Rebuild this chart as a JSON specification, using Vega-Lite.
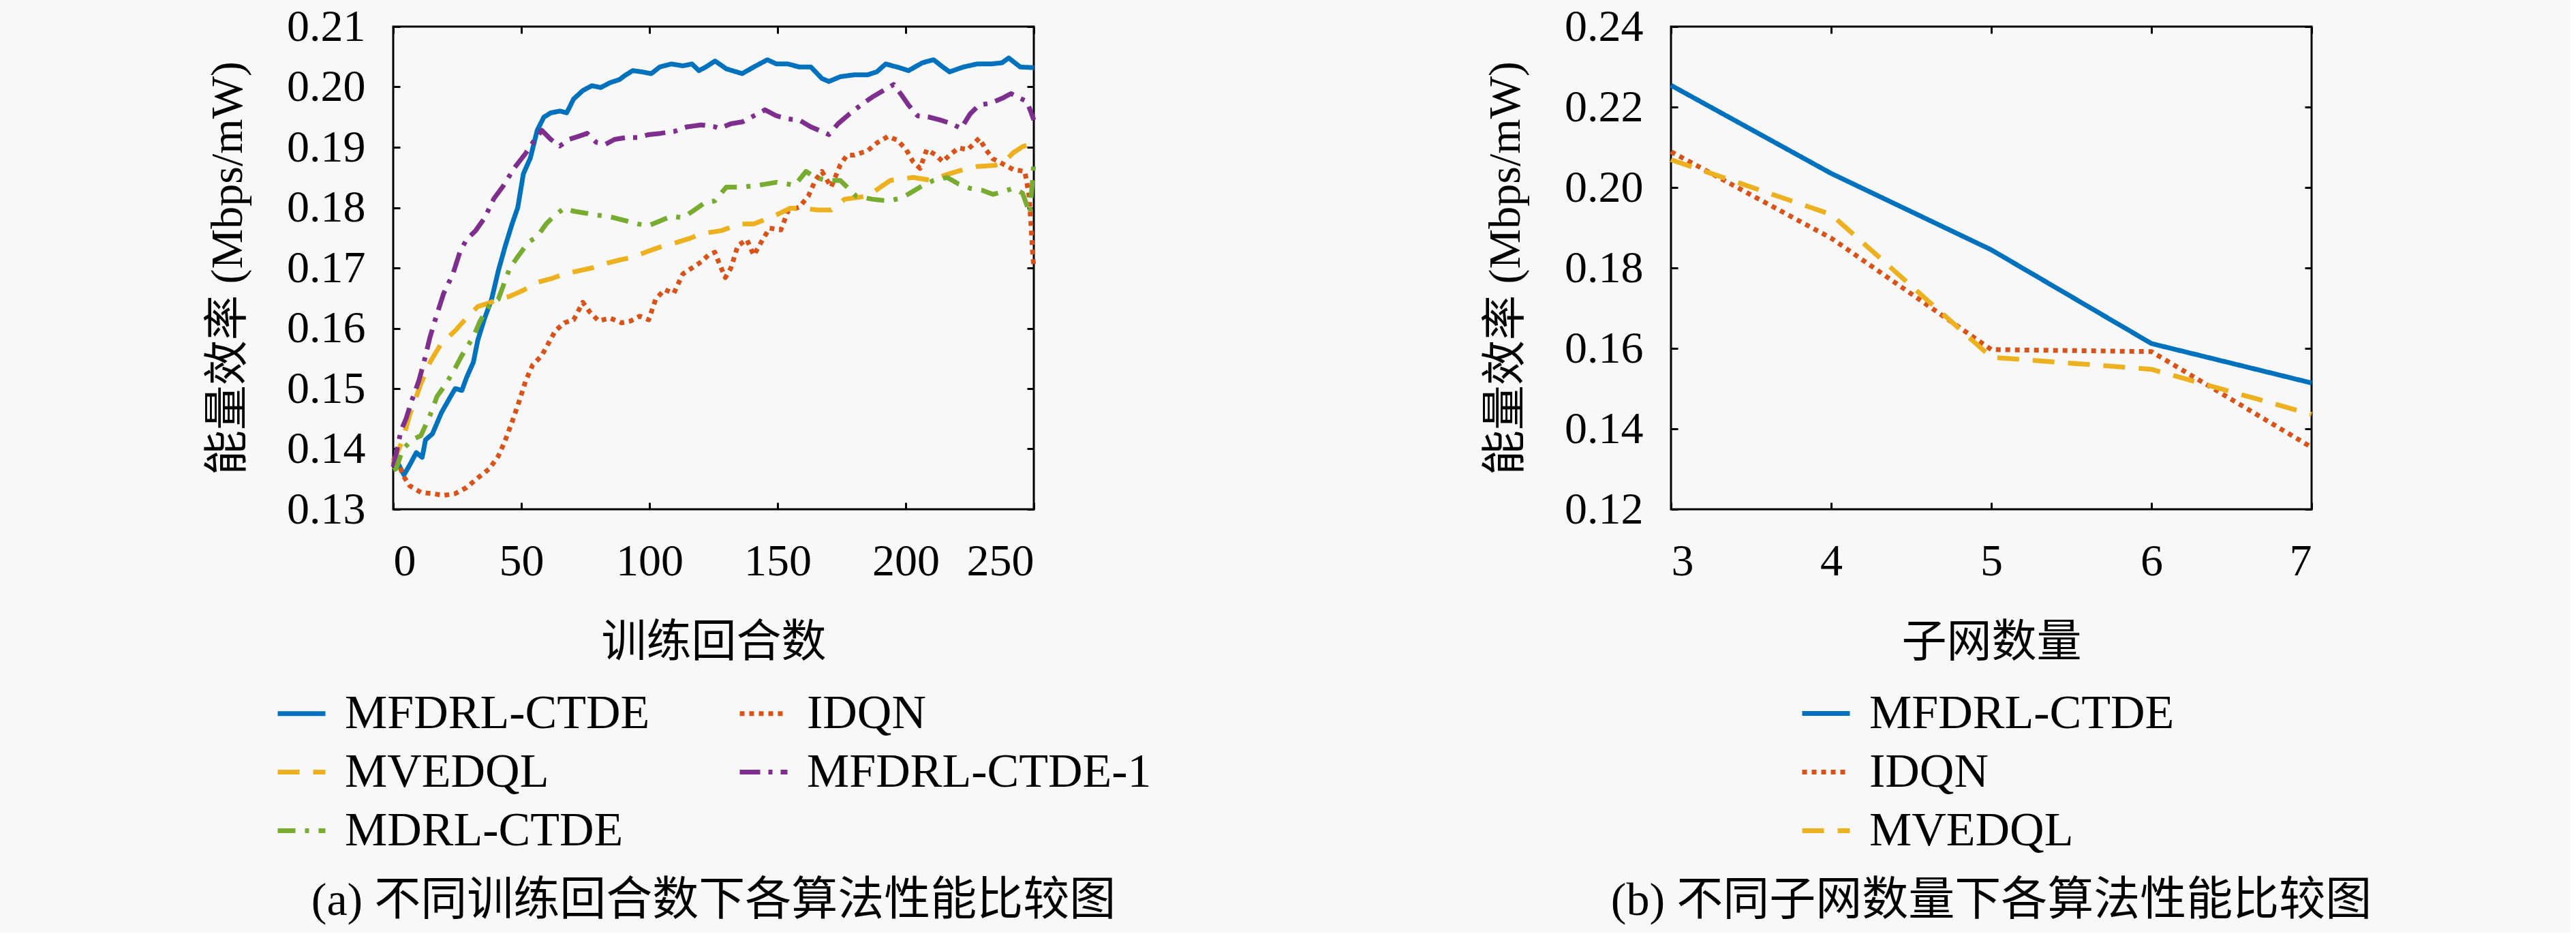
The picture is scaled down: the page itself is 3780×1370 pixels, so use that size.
{
  "$schema": "https://vega.github.io/schema/vega-lite/v6.json",
  "background": "#f8f8f8",
  "padding": {"left": 300, "top": 4, "right": 290, "bottom": 10},
  "spacing": 483,
  "resolve": {
    "scale": {"color": "independent", "strokeDash": "independent"},
    "legend": {"color": "independent", "strokeDash": "independent"}
  },
  "datasets": {
    "train": [
      {"method": "MFDRL-CTDE", "episode": 0, "eff": 0.138},
      {"method": "MFDRL-CTDE", "episode": 2, "eff": 0.1375},
      {"method": "MFDRL-CTDE", "episode": 4.2, "eff": 0.1357},
      {"method": "MFDRL-CTDE", "episode": 6.4, "eff": 0.1373},
      {"method": "MFDRL-CTDE", "episode": 9, "eff": 0.1394},
      {"method": "MFDRL-CTDE", "episode": 11.3, "eff": 0.1386},
      {"method": "MFDRL-CTDE", "episode": 12.6, "eff": 0.1415},
      {"method": "MFDRL-CTDE", "episode": 15.3, "eff": 0.1425},
      {"method": "MFDRL-CTDE", "episode": 18.8, "eff": 0.146},
      {"method": "MFDRL-CTDE", "episode": 22.4, "eff": 0.1487},
      {"method": "MFDRL-CTDE", "episode": 24.2, "eff": 0.15},
      {"method": "MFDRL-CTDE", "episode": 26.8, "eff": 0.1497},
      {"method": "MFDRL-CTDE", "episode": 28.6, "eff": 0.1518},
      {"method": "MFDRL-CTDE", "episode": 31.3, "eff": 0.1544},
      {"method": "MFDRL-CTDE", "episode": 33, "eff": 0.158},
      {"method": "MFDRL-CTDE", "episode": 35.7, "eff": 0.1617},
      {"method": "MFDRL-CTDE", "episode": 38.4, "eff": 0.1648},
      {"method": "MFDRL-CTDE", "episode": 41, "eff": 0.1695},
      {"method": "MFDRL-CTDE", "episode": 43.7, "eff": 0.1736},
      {"method": "MFDRL-CTDE", "episode": 46.4, "eff": 0.1773},
      {"method": "MFDRL-CTDE", "episode": 48.6, "eff": 0.18},
      {"method": "MFDRL-CTDE", "episode": 50.8, "eff": 0.1856},
      {"method": "MFDRL-CTDE", "episode": 53.5, "eff": 0.1882},
      {"method": "MFDRL-CTDE", "episode": 56.2, "eff": 0.1928},
      {"method": "MFDRL-CTDE", "episode": 58.8, "eff": 0.195},
      {"method": "MFDRL-CTDE", "episode": 61.5, "eff": 0.1957},
      {"method": "MFDRL-CTDE", "episode": 65, "eff": 0.196},
      {"method": "MFDRL-CTDE", "episode": 67.7, "eff": 0.1957},
      {"method": "MFDRL-CTDE", "episode": 70.4, "eff": 0.198},
      {"method": "MFDRL-CTDE", "episode": 74, "eff": 0.1994},
      {"method": "MFDRL-CTDE", "episode": 77.5, "eff": 0.2002},
      {"method": "MFDRL-CTDE", "episode": 81, "eff": 0.1999},
      {"method": "MFDRL-CTDE", "episode": 84.6, "eff": 0.2007},
      {"method": "MFDRL-CTDE", "episode": 88.2, "eff": 0.2012},
      {"method": "MFDRL-CTDE", "episode": 90.8, "eff": 0.202},
      {"method": "MFDRL-CTDE", "episode": 93.5, "eff": 0.2027},
      {"method": "MFDRL-CTDE", "episode": 97, "eff": 0.2025},
      {"method": "MFDRL-CTDE", "episode": 100.7, "eff": 0.2022},
      {"method": "MFDRL-CTDE", "episode": 104, "eff": 0.2033},
      {"method": "MFDRL-CTDE", "episode": 108.6, "eff": 0.2038},
      {"method": "MFDRL-CTDE", "episode": 113, "eff": 0.2035},
      {"method": "MFDRL-CTDE", "episode": 116.6, "eff": 0.2038},
      {"method": "MFDRL-CTDE", "episode": 119.3, "eff": 0.2027},
      {"method": "MFDRL-CTDE", "episode": 122, "eff": 0.2033},
      {"method": "MFDRL-CTDE", "episode": 125.6, "eff": 0.2043},
      {"method": "MFDRL-CTDE", "episode": 130, "eff": 0.203},
      {"method": "MFDRL-CTDE", "episode": 136.2, "eff": 0.2022},
      {"method": "MFDRL-CTDE", "episode": 140.7, "eff": 0.2033},
      {"method": "MFDRL-CTDE", "episode": 146, "eff": 0.2045},
      {"method": "MFDRL-CTDE", "episode": 149.6, "eff": 0.2038},
      {"method": "MFDRL-CTDE", "episode": 154, "eff": 0.2038},
      {"method": "MFDRL-CTDE", "episode": 158.5, "eff": 0.2033},
      {"method": "MFDRL-CTDE", "episode": 163, "eff": 0.2033},
      {"method": "MFDRL-CTDE", "episode": 167.3, "eff": 0.2014},
      {"method": "MFDRL-CTDE", "episode": 170, "eff": 0.2009},
      {"method": "MFDRL-CTDE", "episode": 174.5, "eff": 0.2017},
      {"method": "MFDRL-CTDE", "episode": 179.8, "eff": 0.202},
      {"method": "MFDRL-CTDE", "episode": 185.1, "eff": 0.202},
      {"method": "MFDRL-CTDE", "episode": 188.7, "eff": 0.2025},
      {"method": "MFDRL-CTDE", "episode": 192.2, "eff": 0.2038},
      {"method": "MFDRL-CTDE", "episode": 196.7, "eff": 0.2033},
      {"method": "MFDRL-CTDE", "episode": 201.1, "eff": 0.2027},
      {"method": "MFDRL-CTDE", "episode": 206.5, "eff": 0.204},
      {"method": "MFDRL-CTDE", "episode": 210.9, "eff": 0.2045},
      {"method": "MFDRL-CTDE", "episode": 214.5, "eff": 0.2033},
      {"method": "MFDRL-CTDE", "episode": 217.1, "eff": 0.2025},
      {"method": "MFDRL-CTDE", "episode": 222.5, "eff": 0.2033},
      {"method": "MFDRL-CTDE", "episode": 227.8, "eff": 0.2038},
      {"method": "MFDRL-CTDE", "episode": 233.1, "eff": 0.2038},
      {"method": "MFDRL-CTDE", "episode": 237.6, "eff": 0.204},
      {"method": "MFDRL-CTDE", "episode": 240.2, "eff": 0.2048},
      {"method": "MFDRL-CTDE", "episode": 244.7, "eff": 0.2033},
      {"method": "MFDRL-CTDE", "episode": 250, "eff": 0.2032},

      {"method": "IDQN", "episode": 0, "eff": 0.138},
      {"method": "IDQN", "episode": 1.1, "eff": 0.1389},
      {"method": "IDQN", "episode": 3.7, "eff": 0.1357},
      {"method": "IDQN", "episode": 6.4, "eff": 0.1339},
      {"method": "IDQN", "episode": 10.8, "eff": 0.1328},
      {"method": "IDQN", "episode": 15.3, "eff": 0.1326},
      {"method": "IDQN", "episode": 19.7, "eff": 0.1323},
      {"method": "IDQN", "episode": 24.2, "eff": 0.1326},
      {"method": "IDQN", "episode": 28.6, "eff": 0.1336},
      {"method": "IDQN", "episode": 33, "eff": 0.1352},
      {"method": "IDQN", "episode": 37.5, "eff": 0.1367},
      {"method": "IDQN", "episode": 41, "eff": 0.1388},
      {"method": "IDQN", "episode": 43.7, "eff": 0.1414},
      {"method": "IDQN", "episode": 46.4, "eff": 0.1445},
      {"method": "IDQN", "episode": 49, "eff": 0.1477},
      {"method": "IDQN", "episode": 51.7, "eff": 0.1513},
      {"method": "IDQN", "episode": 54.4, "eff": 0.1539},
      {"method": "IDQN", "episode": 58, "eff": 0.1555},
      {"method": "IDQN", "episode": 60.7, "eff": 0.1576},
      {"method": "IDQN", "episode": 63.3, "eff": 0.1596},
      {"method": "IDQN", "episode": 66.8, "eff": 0.1609},
      {"method": "IDQN", "episode": 70.4, "eff": 0.1614},
      {"method": "IDQN", "episode": 74, "eff": 0.1643},
      {"method": "IDQN", "episode": 76.7, "eff": 0.1627},
      {"method": "IDQN", "episode": 80.2, "eff": 0.1612},
      {"method": "IDQN", "episode": 84.6, "eff": 0.1617},
      {"method": "IDQN", "episode": 89.1, "eff": 0.1609},
      {"method": "IDQN", "episode": 92.6, "eff": 0.1612},
      {"method": "IDQN", "episode": 96.2, "eff": 0.162},
      {"method": "IDQN", "episode": 99.7, "eff": 0.1614},
      {"method": "IDQN", "episode": 102.4, "eff": 0.1648},
      {"method": "IDQN", "episode": 105.9, "eff": 0.1664},
      {"method": "IDQN", "episode": 109.5, "eff": 0.1658},
      {"method": "IDQN", "episode": 113, "eff": 0.169},
      {"method": "IDQN", "episode": 116.6, "eff": 0.17},
      {"method": "IDQN", "episode": 120.2, "eff": 0.171},
      {"method": "IDQN", "episode": 122.9, "eff": 0.1721},
      {"method": "IDQN", "episode": 125.5, "eff": 0.1726},
      {"method": "IDQN", "episode": 127, "eff": 0.171},
      {"method": "IDQN", "episode": 129.6, "eff": 0.1684},
      {"method": "IDQN", "episode": 131.8, "eff": 0.17},
      {"method": "IDQN", "episode": 134.5, "eff": 0.1737},
      {"method": "IDQN", "episode": 138, "eff": 0.1747},
      {"method": "IDQN", "episode": 140.7, "eff": 0.1721},
      {"method": "IDQN", "episode": 144.2, "eff": 0.1747},
      {"method": "IDQN", "episode": 146.9, "eff": 0.1766},
      {"method": "IDQN", "episode": 151.3, "eff": 0.1763},
      {"method": "IDQN", "episode": 154, "eff": 0.1794},
      {"method": "IDQN", "episode": 158.5, "eff": 0.1801},
      {"method": "IDQN", "episode": 162, "eff": 0.1819},
      {"method": "IDQN", "episode": 164.7, "eff": 0.1845},
      {"method": "IDQN", "episode": 167.3, "eff": 0.186},
      {"method": "IDQN", "episode": 170.9, "eff": 0.1834},
      {"method": "IDQN", "episode": 174.5, "eff": 0.1871},
      {"method": "IDQN", "episode": 177.1, "eff": 0.1887},
      {"method": "IDQN", "episode": 179.8, "eff": 0.1887},
      {"method": "IDQN", "episode": 185.1, "eff": 0.1894},
      {"method": "IDQN", "episode": 188.7, "eff": 0.1907},
      {"method": "IDQN", "episode": 193.1, "eff": 0.1918},
      {"method": "IDQN", "episode": 196.7, "eff": 0.1912},
      {"method": "IDQN", "episode": 200.2, "eff": 0.1896},
      {"method": "IDQN", "episode": 202.9, "eff": 0.1876},
      {"method": "IDQN", "episode": 205.6, "eff": 0.1865},
      {"method": "IDQN", "episode": 208.2, "eff": 0.1896},
      {"method": "IDQN", "episode": 211.8, "eff": 0.1887},
      {"method": "IDQN", "episode": 214.5, "eff": 0.1876},
      {"method": "IDQN", "episode": 217.1, "eff": 0.1887},
      {"method": "IDQN", "episode": 220.7, "eff": 0.1899},
      {"method": "IDQN", "episode": 224.2, "eff": 0.1896},
      {"method": "IDQN", "episode": 228.7, "eff": 0.1915},
      {"method": "IDQN", "episode": 231.3, "eff": 0.1896},
      {"method": "IDQN", "episode": 234, "eff": 0.1881},
      {"method": "IDQN", "episode": 238.5, "eff": 0.1871},
      {"method": "IDQN", "episode": 242, "eff": 0.1863},
      {"method": "IDQN", "episode": 246.5, "eff": 0.186},
      {"method": "IDQN", "episode": 248.2, "eff": 0.1819},
      {"method": "IDQN", "episode": 249.6, "eff": 0.1721},
      {"method": "IDQN", "episode": 250, "eff": 0.17},

      {"method": "MVEDQL", "episode": 0, "eff": 0.1375},
      {"method": "MVEDQL", "episode": 1.1, "eff": 0.1389},
      {"method": "MVEDQL", "episode": 3.7, "eff": 0.1415},
      {"method": "MVEDQL", "episode": 6.4, "eff": 0.1456},
      {"method": "MVEDQL", "episode": 10.8, "eff": 0.1508},
      {"method": "MVEDQL", "episode": 14.4, "eff": 0.1544},
      {"method": "MVEDQL", "episode": 18.8, "eff": 0.1575},
      {"method": "MVEDQL", "episode": 24.2, "eff": 0.1596},
      {"method": "MVEDQL", "episode": 28.6, "eff": 0.1617},
      {"method": "MVEDQL", "episode": 33, "eff": 0.1636},
      {"method": "MVEDQL", "episode": 37.5, "eff": 0.1642},
      {"method": "MVEDQL", "episode": 41, "eff": 0.1648},
      {"method": "MVEDQL", "episode": 45.5, "eff": 0.1653},
      {"method": "MVEDQL", "episode": 50.8, "eff": 0.1663},
      {"method": "MVEDQL", "episode": 56.2, "eff": 0.1676},
      {"method": "MVEDQL", "episode": 61.5, "eff": 0.1682},
      {"method": "MVEDQL", "episode": 66.8, "eff": 0.169},
      {"method": "MVEDQL", "episode": 72.2, "eff": 0.1695},
      {"method": "MVEDQL", "episode": 77.5, "eff": 0.17},
      {"method": "MVEDQL", "episode": 82.8, "eff": 0.1707},
      {"method": "MVEDQL", "episode": 88.2, "eff": 0.1713},
      {"method": "MVEDQL", "episode": 93.5, "eff": 0.1718},
      {"method": "MVEDQL", "episode": 99.7, "eff": 0.1728},
      {"method": "MVEDQL", "episode": 105.1, "eff": 0.1736},
      {"method": "MVEDQL", "episode": 110.4, "eff": 0.1742},
      {"method": "MVEDQL", "episode": 115.8, "eff": 0.1749},
      {"method": "MVEDQL", "episode": 120.2, "eff": 0.1757},
      {"method": "MVEDQL", "episode": 125.5, "eff": 0.176},
      {"method": "MVEDQL", "episode": 128.2, "eff": 0.1762},
      {"method": "MVEDQL", "episode": 135.3, "eff": 0.1773},
      {"method": "MVEDQL", "episode": 140.7, "eff": 0.1773},
      {"method": "MVEDQL", "episode": 149.6, "eff": 0.1788},
      {"method": "MVEDQL", "episode": 154.9, "eff": 0.1799},
      {"method": "MVEDQL", "episode": 160.2, "eff": 0.1799},
      {"method": "MVEDQL", "episode": 165.6, "eff": 0.1796},
      {"method": "MVEDQL", "episode": 170.9, "eff": 0.1796},
      {"method": "MVEDQL", "episode": 176.2, "eff": 0.1814},
      {"method": "MVEDQL", "episode": 185.1, "eff": 0.1819},
      {"method": "MVEDQL", "episode": 194, "eff": 0.1845},
      {"method": "MVEDQL", "episode": 202.9, "eff": 0.185},
      {"method": "MVEDQL", "episode": 210, "eff": 0.1845},
      {"method": "MVEDQL", "episode": 216.2, "eff": 0.1855},
      {"method": "MVEDQL", "episode": 222.5, "eff": 0.1863},
      {"method": "MVEDQL", "episode": 227.8, "eff": 0.1868},
      {"method": "MVEDQL", "episode": 234.9, "eff": 0.187},
      {"method": "MVEDQL", "episode": 238.5, "eff": 0.1876},
      {"method": "MVEDQL", "episode": 242, "eff": 0.1891},
      {"method": "MVEDQL", "episode": 245.6, "eff": 0.1901},
      {"method": "MVEDQL", "episode": 249.1, "eff": 0.1906},
      {"method": "MVEDQL", "episode": 250, "eff": 0.19},

      {"method": "MFDRL-CTDE-1", "episode": 0, "eff": 0.137},
      {"method": "MFDRL-CTDE-1", "episode": 1, "eff": 0.1389},
      {"method": "MFDRL-CTDE-1", "episode": 3, "eff": 0.143},
      {"method": "MFDRL-CTDE-1", "episode": 5, "eff": 0.145},
      {"method": "MFDRL-CTDE-1", "episode": 7, "eff": 0.1477},
      {"method": "MFDRL-CTDE-1", "episode": 10, "eff": 0.1513},
      {"method": "MFDRL-CTDE-1", "episode": 12, "eff": 0.1544},
      {"method": "MFDRL-CTDE-1", "episode": 14.4, "eff": 0.1586},
      {"method": "MFDRL-CTDE-1", "episode": 16.6, "eff": 0.1617},
      {"method": "MFDRL-CTDE-1", "episode": 19.7, "eff": 0.1658},
      {"method": "MFDRL-CTDE-1", "episode": 23.3, "eff": 0.169},
      {"method": "MFDRL-CTDE-1", "episode": 26, "eff": 0.1726},
      {"method": "MFDRL-CTDE-1", "episode": 28.6, "eff": 0.1747},
      {"method": "MFDRL-CTDE-1", "episode": 32.2, "eff": 0.1762},
      {"method": "MFDRL-CTDE-1", "episode": 35.7, "eff": 0.1783},
      {"method": "MFDRL-CTDE-1", "episode": 39.3, "eff": 0.1815},
      {"method": "MFDRL-CTDE-1", "episode": 42.8, "eff": 0.1835},
      {"method": "MFDRL-CTDE-1", "episode": 47.3, "eff": 0.1866},
      {"method": "MFDRL-CTDE-1", "episode": 51.7, "eff": 0.189},
      {"method": "MFDRL-CTDE-1", "episode": 55.3, "eff": 0.1913},
      {"method": "MFDRL-CTDE-1", "episode": 58, "eff": 0.1928},
      {"method": "MFDRL-CTDE-1", "episode": 61.5, "eff": 0.1913},
      {"method": "MFDRL-CTDE-1", "episode": 65, "eff": 0.1902},
      {"method": "MFDRL-CTDE-1", "episode": 68.6, "eff": 0.1913},
      {"method": "MFDRL-CTDE-1", "episode": 72.2, "eff": 0.1918},
      {"method": "MFDRL-CTDE-1", "episode": 75.7, "eff": 0.1923},
      {"method": "MFDRL-CTDE-1", "episode": 79.3, "eff": 0.1908},
      {"method": "MFDRL-CTDE-1", "episode": 82.8, "eff": 0.1905},
      {"method": "MFDRL-CTDE-1", "episode": 86.4, "eff": 0.1913},
      {"method": "MFDRL-CTDE-1", "episode": 90.8, "eff": 0.1916},
      {"method": "MFDRL-CTDE-1", "episode": 95.3, "eff": 0.1916},
      {"method": "MFDRL-CTDE-1", "episode": 99.7, "eff": 0.1921},
      {"method": "MFDRL-CTDE-1", "episode": 104.2, "eff": 0.1923},
      {"method": "MFDRL-CTDE-1", "episode": 109.5, "eff": 0.1926},
      {"method": "MFDRL-CTDE-1", "episode": 114.8, "eff": 0.1934},
      {"method": "MFDRL-CTDE-1", "episode": 120.2, "eff": 0.1937},
      {"method": "MFDRL-CTDE-1", "episode": 125.5, "eff": 0.1934},
      {"method": "MFDRL-CTDE-1", "episode": 127.3, "eff": 0.1931},
      {"method": "MFDRL-CTDE-1", "episode": 131.8, "eff": 0.1939},
      {"method": "MFDRL-CTDE-1", "episode": 136.2, "eff": 0.1942},
      {"method": "MFDRL-CTDE-1", "episode": 140.7, "eff": 0.1952},
      {"method": "MFDRL-CTDE-1", "episode": 145.1, "eff": 0.1962},
      {"method": "MFDRL-CTDE-1", "episode": 149.6, "eff": 0.1952},
      {"method": "MFDRL-CTDE-1", "episode": 154, "eff": 0.1947},
      {"method": "MFDRL-CTDE-1", "episode": 158.5, "eff": 0.1945},
      {"method": "MFDRL-CTDE-1", "episode": 162.9, "eff": 0.1934},
      {"method": "MFDRL-CTDE-1", "episode": 167.3, "eff": 0.1926},
      {"method": "MFDRL-CTDE-1", "episode": 170, "eff": 0.1921},
      {"method": "MFDRL-CTDE-1", "episode": 173.6, "eff": 0.1939},
      {"method": "MFDRL-CTDE-1", "episode": 178, "eff": 0.1955},
      {"method": "MFDRL-CTDE-1", "episode": 182.5, "eff": 0.197},
      {"method": "MFDRL-CTDE-1", "episode": 186.9, "eff": 0.1983},
      {"method": "MFDRL-CTDE-1", "episode": 191.3, "eff": 0.1994},
      {"method": "MFDRL-CTDE-1", "episode": 195.3, "eff": 0.2004},
      {"method": "MFDRL-CTDE-1", "episode": 198.5, "eff": 0.1986},
      {"method": "MFDRL-CTDE-1", "episode": 201.1, "eff": 0.197},
      {"method": "MFDRL-CTDE-1", "episode": 204.7, "eff": 0.1952},
      {"method": "MFDRL-CTDE-1", "episode": 209.1, "eff": 0.195},
      {"method": "MFDRL-CTDE-1", "episode": 213.6, "eff": 0.1945},
      {"method": "MFDRL-CTDE-1", "episode": 218, "eff": 0.1939},
      {"method": "MFDRL-CTDE-1", "episode": 221.6, "eff": 0.1931},
      {"method": "MFDRL-CTDE-1", "episode": 225.1, "eff": 0.1955},
      {"method": "MFDRL-CTDE-1", "episode": 228.7, "eff": 0.197},
      {"method": "MFDRL-CTDE-1", "episode": 233.1, "eff": 0.1973},
      {"method": "MFDRL-CTDE-1", "episode": 237.6, "eff": 0.1981},
      {"method": "MFDRL-CTDE-1", "episode": 241.1, "eff": 0.1989},
      {"method": "MFDRL-CTDE-1", "episode": 244.7, "eff": 0.1981},
      {"method": "MFDRL-CTDE-1", "episode": 247.3, "eff": 0.1976},
      {"method": "MFDRL-CTDE-1", "episode": 249.6, "eff": 0.195},
      {"method": "MFDRL-CTDE-1", "episode": 250, "eff": 0.1945},

      {"method": "MDRL-CTDE", "episode": 0, "eff": 0.1365},
      {"method": "MDRL-CTDE", "episode": 1.1, "eff": 0.1367},
      {"method": "MDRL-CTDE", "episode": 3.7, "eff": 0.1399},
      {"method": "MDRL-CTDE", "episode": 7.3, "eff": 0.1415},
      {"method": "MDRL-CTDE", "episode": 10.8, "eff": 0.1422},
      {"method": "MDRL-CTDE", "episode": 14.4, "eff": 0.1456},
      {"method": "MDRL-CTDE", "episode": 17.1, "eff": 0.1487},
      {"method": "MDRL-CTDE", "episode": 20.6, "eff": 0.1508},
      {"method": "MDRL-CTDE", "episode": 24.2, "eff": 0.1534},
      {"method": "MDRL-CTDE", "episode": 26.8, "eff": 0.1555},
      {"method": "MDRL-CTDE", "episode": 31.3, "eff": 0.1586},
      {"method": "MDRL-CTDE", "episode": 33.9, "eff": 0.1612},
      {"method": "MDRL-CTDE", "episode": 37.5, "eff": 0.1638},
      {"method": "MDRL-CTDE", "episode": 41, "eff": 0.1648},
      {"method": "MDRL-CTDE", "episode": 45.5, "eff": 0.17},
      {"method": "MDRL-CTDE", "episode": 49, "eff": 0.1721},
      {"method": "MDRL-CTDE", "episode": 52.6, "eff": 0.1742},
      {"method": "MDRL-CTDE", "episode": 56.2, "eff": 0.1752},
      {"method": "MDRL-CTDE", "episode": 59.7, "eff": 0.1773},
      {"method": "MDRL-CTDE", "episode": 63.3, "eff": 0.1788},
      {"method": "MDRL-CTDE", "episode": 66.8, "eff": 0.1799},
      {"method": "MDRL-CTDE", "episode": 70.4, "eff": 0.1794},
      {"method": "MDRL-CTDE", "episode": 74.8, "eff": 0.1791},
      {"method": "MDRL-CTDE", "episode": 78.4, "eff": 0.1788},
      {"method": "MDRL-CTDE", "episode": 82.8, "eff": 0.1786},
      {"method": "MDRL-CTDE", "episode": 86.4, "eff": 0.1783},
      {"method": "MDRL-CTDE", "episode": 90.8, "eff": 0.1778},
      {"method": "MDRL-CTDE", "episode": 95.3, "eff": 0.1773},
      {"method": "MDRL-CTDE", "episode": 99.7, "eff": 0.177},
      {"method": "MDRL-CTDE", "episode": 104.2, "eff": 0.1778},
      {"method": "MDRL-CTDE", "episode": 108.6, "eff": 0.1786},
      {"method": "MDRL-CTDE", "episode": 113, "eff": 0.1783},
      {"method": "MDRL-CTDE", "episode": 117.5, "eff": 0.1796},
      {"method": "MDRL-CTDE", "episode": 121.9, "eff": 0.1809},
      {"method": "MDRL-CTDE", "episode": 125.5, "eff": 0.1811},
      {"method": "MDRL-CTDE", "episode": 130, "eff": 0.1834},
      {"method": "MDRL-CTDE", "episode": 136.2, "eff": 0.1834},
      {"method": "MDRL-CTDE", "episode": 142.5, "eff": 0.1837},
      {"method": "MDRL-CTDE", "episode": 149.6, "eff": 0.1842},
      {"method": "MDRL-CTDE", "episode": 156.7, "eff": 0.1837},
      {"method": "MDRL-CTDE", "episode": 161.1, "eff": 0.186},
      {"method": "MDRL-CTDE", "episode": 164.7, "eff": 0.185},
      {"method": "MDRL-CTDE", "episode": 169.1, "eff": 0.1845},
      {"method": "MDRL-CTDE", "episode": 174.5, "eff": 0.1845},
      {"method": "MDRL-CTDE", "episode": 180.7, "eff": 0.1819},
      {"method": "MDRL-CTDE", "episode": 186.9, "eff": 0.1814},
      {"method": "MDRL-CTDE", "episode": 193.1, "eff": 0.1811},
      {"method": "MDRL-CTDE", "episode": 198.5, "eff": 0.1816},
      {"method": "MDRL-CTDE", "episode": 205.6, "eff": 0.1834},
      {"method": "MDRL-CTDE", "episode": 210.9, "eff": 0.1845},
      {"method": "MDRL-CTDE", "episode": 216.2, "eff": 0.185},
      {"method": "MDRL-CTDE", "episode": 220.7, "eff": 0.1839},
      {"method": "MDRL-CTDE", "episode": 225.1, "eff": 0.1832},
      {"method": "MDRL-CTDE", "episode": 229.6, "eff": 0.1829},
      {"method": "MDRL-CTDE", "episode": 234, "eff": 0.1822},
      {"method": "MDRL-CTDE", "episode": 238.5, "eff": 0.1827},
      {"method": "MDRL-CTDE", "episode": 242, "eff": 0.1832},
      {"method": "MDRL-CTDE", "episode": 245.6, "eff": 0.1824},
      {"method": "MDRL-CTDE", "episode": 247.3, "eff": 0.1804},
      {"method": "MDRL-CTDE", "episode": 248.5, "eff": 0.179},
      {"method": "MDRL-CTDE", "episode": 250, "eff": 0.1875}
    ],
    "subnet": [
      {"method": "MFDRL-CTDE", "subnets": 3, "eff": 0.2254},
      {"method": "MFDRL-CTDE", "subnets": 4, "eff": 0.2035},
      {"method": "MFDRL-CTDE", "subnets": 5, "eff": 0.1845},
      {"method": "MFDRL-CTDE", "subnets": 6, "eff": 0.1612},
      {"method": "MFDRL-CTDE", "subnets": 7, "eff": 0.1514},
      {"method": "IDQN", "subnets": 3, "eff": 0.2089},
      {"method": "IDQN", "subnets": 4, "eff": 0.1874},
      {"method": "IDQN", "subnets": 5, "eff": 0.1597},
      {"method": "IDQN", "subnets": 6, "eff": 0.1592},
      {"method": "IDQN", "subnets": 7, "eff": 0.1354},
      {"method": "MVEDQL", "subnets": 3, "eff": 0.2069},
      {"method": "MVEDQL", "subnets": 4, "eff": 0.1933},
      {"method": "MVEDQL", "subnets": 5, "eff": 0.1578},
      {"method": "MVEDQL", "subnets": 6, "eff": 0.1548},
      {"method": "MVEDQL", "subnets": 7, "eff": 0.1436}
    ]
  },
  "hconcat": [
    {
      "width": 940,
      "height": 708,
      "title": {"text": "(a) 不同训练回合数下各算法性能比较图", "orient": "bottom", "offset": 34},
      "data": {"name": "train"},
      "layer": [
        {
          "mark": {"type": "line", "strokeWidth": 7, "strokeCap": "butt", "strokeJoin": "round"},
          "encoding": {
            "x": {
              "field": "episode", "type": "quantitative",
              "scale": {"domain": [0, 250], "nice": false},
              "axis": {"orient": "bottom", "values": [0, 50, 100, 150, 200, 250], "format": "d", "title": "训练回合数", "labelPadding": 54, "titlePadding": 54}
            },
            "y": {
              "field": "eff", "type": "quantitative",
              "scale": {"domain": [0.13, 0.21], "nice": false, "zero": false},
              "axis": {"orient": "left", "values": [0.13, 0.14, 0.15, 0.16, 0.17, 0.18, 0.19, 0.2, 0.21], "format": ".2f", "title": "能量效率 (Mbps/mW)", "labelPadding": 51, "titlePadding": 52}
            },
            "color": {
              "field": "method", "type": "nominal",
              "scale": {"domain": ["MFDRL-CTDE", "MVEDQL", "MDRL-CTDE", "IDQN", "MFDRL-CTDE-1"], "range": ["#0072BD", "#EDB120", "#77AC30", "#D95319", "#7E2F8E"]},
              "legend": {"orient": "none", "legendX": -173, "legendY": 969, "columns": 2, "columnPadding": 117}
            },
            "strokeDash": {
              "field": "method", "type": "nominal",
              "scale": {"domain": ["MFDRL-CTDE", "MVEDQL", "MDRL-CTDE", "IDQN", "MFDRL-CTDE-1"], "range": [[1, 0], [32, 20], [26, 14, 6, 14], [7, 7], [30, 12, 6, 12]]},
              "legend": null
            }
          }
        },
        {
          "mark": {"type": "line", "opacity": 0},
          "encoding": {
            "x": {"field": "episode", "type": "quantitative", "axis": {"orient": "top", "values": [0, 50, 100, 150, 200, 250], "labels": false, "title": null}},
            "y": {"field": "eff", "type": "quantitative", "axis": {"orient": "right", "values": [0.13, 0.14, 0.15, 0.16, 0.17, 0.18, 0.19, 0.2, 0.21], "labels": false, "title": null}},
            "detail": {"field": "method"}
          }
        }
      ],
      "resolve": {"axis": {"x": "independent", "y": "independent"}}
    },
    {
      "width": 940,
      "height": 708,
      "title": {"text": "(b) 不同子网数量下各算法性能比较图", "orient": "bottom", "offset": 34},
      "data": {"name": "subnet"},
      "layer": [
        {
          "mark": {"type": "line", "strokeWidth": 7, "strokeCap": "butt", "strokeJoin": "round"},
          "encoding": {
            "x": {
              "field": "subnets", "type": "quantitative",
              "scale": {"domain": [3, 7], "nice": false, "zero": false},
              "axis": {"orient": "bottom", "values": [3, 4, 5, 6, 7], "format": "d", "title": "子网数量", "labelPadding": 54, "titlePadding": 54}
            },
            "y": {
              "field": "eff", "type": "quantitative",
              "scale": {"domain": [0.12, 0.24], "nice": false, "zero": false},
              "axis": {"orient": "left", "values": [0.12, 0.14, 0.16, 0.18, 0.2, 0.22, 0.24], "format": ".2f", "title": "能量效率 (Mbps/mW)", "labelPadding": 51, "titlePadding": 52}
            },
            "color": {
              "field": "method", "type": "nominal",
              "scale": {"domain": ["MFDRL-CTDE", "IDQN", "MVEDQL"], "range": ["#0072BD", "#D95319", "#EDB120"]},
              "legend": {"orient": "none", "legendX": 189, "legendY": 969, "columns": 1}
            },
            "strokeDash": {
              "field": "method", "type": "nominal",
              "scale": {"domain": ["MFDRL-CTDE", "IDQN", "MVEDQL"], "range": [[1, 0], [7, 7], [32, 20]]},
              "legend": null
            }
          }
        },
        {
          "mark": {"type": "line", "opacity": 0},
          "encoding": {
            "x": {"field": "subnets", "type": "quantitative", "axis": {"orient": "top", "values": [3, 4, 5, 6, 7], "labels": false, "title": null}},
            "y": {"field": "eff", "type": "quantitative", "axis": {"orient": "right", "values": [0.12, 0.14, 0.16, 0.18, 0.2, 0.22, 0.24], "labels": false, "title": null}},
            "detail": {"field": "method"}
          }
        }
      ],
      "resolve": {"axis": {"x": "independent", "y": "independent"}}
    }
  ],
  "config": {
    "font": "Liberation Serif, Noto Sans CJK SC",
    "view": {"stroke": "#000", "strokeWidth": 3},
    "axis": {
      "domain": false, "grid": false,
      "tickColor": "#000", "tickWidth": 3, "tickSize": -10,
      "labelFont": "Liberation Serif, Noto Sans CJK SC", "labelFontSize": 66, "labelColor": "#000",
      "titleFont": "Liberation Serif, Noto Sans CJK SC", "titleFontSize": 66, "titleFontWeight": "normal", "titleColor": "#000"
    },
    "legend": {
      "title": null, "padding": 0,
      "symbolType": "stroke", "symbolSize": 4900, "symbolStrokeWidth": 7,
      "labelFont": "Liberation Serif, Noto Sans CJK SC", "labelFontSize": 70, "labelColor": "#000", "labelLimit": 0,
      "labelOffset": 25, "rowPadding": 12
    },
    "title": {
      "font": "Liberation Serif, Noto Sans CJK SC", "fontSize": 68, "fontWeight": "normal", "color": "#000",
      "anchor": "middle", "frame": "group"
    }
  }
}
